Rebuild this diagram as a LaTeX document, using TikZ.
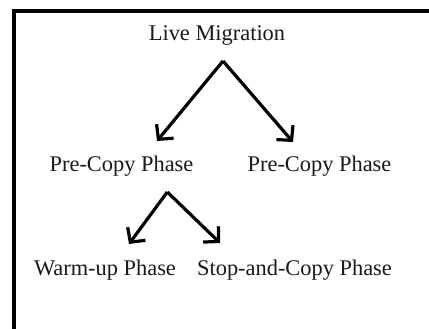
\documentclass[tikz,border=0pt]{standalone}
\usepackage{fontspec}
\setmainfont{Liberation Serif}
\usetikzlibrary{arrows.meta}
\begin{document}
\begin{tikzpicture}[x=1pt,y=-1pt,
  lbl/.style={anchor=base,inner sep=0pt,font=\fontsize{22.4}{26}\selectfont,text=black!90},
  arr/.style={line width=3.2pt,line join=miter,-{Straight Barb[length=10.5pt,width=22pt,line width=3.2pt]}},
  frame/.style={line width=4pt}]
\useasboundingbox (0,0) rectangle (429,329);
\draw[frame] (14,329) -- (14,11) -- (429,11);
\node[lbl] (lm) at (217,40.7) {Live Migration};
\node[lbl] (pc1) at (121.5,171.7) {Pre-Copy Phase};
\node[lbl] (pc2) at (319.5,171.7) {Pre-Copy Phase};
\node[lbl] (wu) at (105,275.5) {Warm-up Phase};
\node[lbl] (sc) at (294.5,275.5) {Stop-and-Copy Phase};
\coordinate (a1) at (223,61);
\coordinate (t1) at (157,141);
\coordinate (t2) at (293,142);
\coordinate (a2) at (167.3,192);
\coordinate (t3) at (129,244);
\coordinate (t4) at (220,243);
\draw[arr] (a1) -- (t1);
\draw[arr] (a1) -- (t2);
\draw[arr] (a2) -- (t3);
\draw[arr] (a2) -- (t4);
\end{tikzpicture}
\end{document}
